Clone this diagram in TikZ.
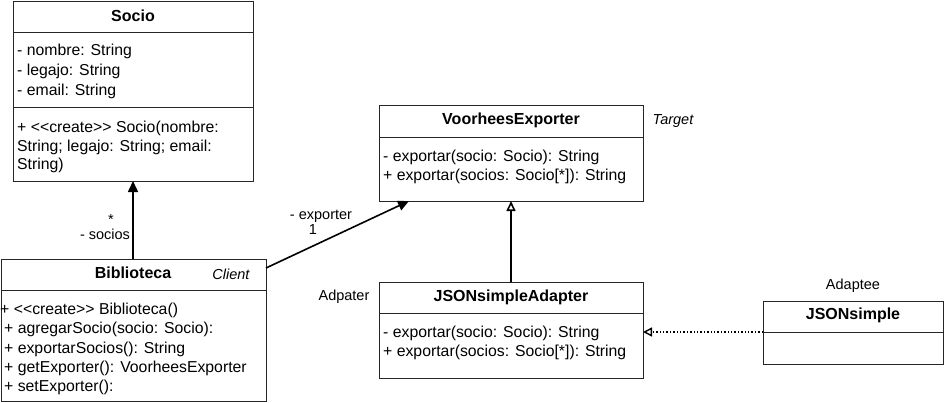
\documentclass[tikz,border=0pt]{standalone}
\usepackage{fontspec}
\setmainfont{Liberation Sans}
\usetikzlibrary{arrows.meta}
\newcommand{\crt}{<\kern0pt<create>\kern0pt>}
\begin{document}
\begin{tikzpicture}[x=1pt,y=-1pt,
  box/.style={draw=black!85,line width=1.3pt,fill=white},
  sep/.style={draw=black!85,line width=1pt},
  ttl/.style={font=\fontsize{16}{20}\selectfont\bfseries,inner sep=0pt,yshift=-1pt},
  txt/.style={font=\fontsize{15.8}{20}\selectfont,anchor=west,inner sep=0pt,text height=11.5pt,text depth=3.5pt,yshift=-2pt},
  lbl/.style={font=\fontsize{14.5}{17}\selectfont,inner sep=0pt},
  ilbl/.style={font=\fontsize{14.5}{17}\selectfont\itshape,inner sep=0pt},
  assoc/.style={line width=1.6pt,-{Triangle[length=11pt,width=10pt]}},
  gen/.style={line width=1.6pt,-{Triangle[open,length=10pt,width=9pt]}},
  real/.style={line width=1.4pt,dotted,-{Triangle[open,length=9pt,width=9pt]}}
]
\useasboundingbox (0,0) rectangle (945,402);
% Socio
\node[box,anchor=north west,minimum width=240pt,minimum height=180pt,inner sep=0pt] (socio) at (13,1) {};
\draw[sep] (13,32) -- (253,32);
\draw[sep] (13,107) -- (253,107);
\node[ttl] (socioT) at (133,15) {Socio};
\node[txt] (s1) at (17,49) {- nombre: String};
\node[txt] (s2) at (17,69) {- legajo: String};
\node[txt] (s3) at (17,89) {- email: String};
\node[txt] (s4) at (17,126) {+ \crt{} Socio(nombre:};
\node[txt] (s5) at (17,145) {String; legajo: String; email:};
\node[txt] (s6) at (17,163) {String)};
% Biblioteca
\node[box,anchor=north west,minimum width=265pt,minimum height=142pt,inner sep=0pt] (bib) at (1,259) {};
\draw[sep] (1,290) -- (266,290);
\node[ttl] (bibT) at (133,272) {Biblioteca};
\node[ilbl] (client) at (231,274) {Client};
\node[txt] (b1) at (0,308) {+ \crt{} Biblioteca()};
\node[txt] (b2) at (4,327) {+ agregarSocio(socio: Socio):};
\node[txt] (b3) at (4,347) {+ exportarSocios(): String};
\node[txt] (b4) at (4,366) {+ getExporter(): VoorheesExporter};
\node[txt] (b5) at (4,385) {+ setExporter():};
% VoorheesExporter
\node[box,anchor=north west,minimum width=264pt,minimum height=96pt,inner sep=0pt] (voor) at (379,105) {};
\draw[sep] (379,137) -- (643,137);
\node[ttl] (voorT) at (511,119) {VoorheesExporter};
\node[ilbl] (target) at (673,121) {Target};
\node[txt] (v1) at (383,155) {- exportar(socio: Socio): String};
\node[txt] (v2) at (383,174) {+ exportar(socios: Socio[*]): String};
% JSONsimpleAdapter
\node[box,anchor=north west,minimum width=264pt,minimum height=96pt,inner sep=0pt] (adap) at (379,282) {};
\draw[sep] (379,313) -- (643,313);
\node[ttl] (adapT) at (511,296) {JSONsimpleAdapter};
\node[lbl] (adpater) at (344,297) {Adpater};
\node[txt] (a1) at (383,331) {- exportar(socio: Socio): String};
\node[txt] (a2) at (383,350) {+ exportar(socios: Socio[*]): String};
% JSONsimple
\node[box,anchor=north west,minimum width=180pt,minimum height=63pt,inner sep=0pt] (json) at (763,301) {};
\draw[sep] (763,332) -- (943,332);
\node[ttl] (jsonT) at (853,314) {JSONsimple};
\node[lbl] (adaptee) at (853,286) {Adaptee};
% connectors
\coordinate (bibTop) at (133,259);
\coordinate (socioBot) at (133,181);
\draw[assoc] (bibTop) -- (socioBot);
\node[lbl] (star) at (111,220) {*};
\node[lbl] (socios) at (105,234) {- socios};
\coordinate (bibR) at (266,268);
\coordinate (voorB) at (409,201);
\draw[assoc] (bibR) -- (voorB);
\node[lbl] (exporter) at (321,216) {- exporter};
\node[lbl] (one) at (313,230) {1};
\coordinate (adapTop) at (511,282);
\coordinate (voorBot) at (511,201);
\draw[gen] (adapTop) -- (voorBot);
\coordinate (jsonL) at (763,332);
\coordinate (adapR) at (643,332);
\draw[real] (jsonL) -- (adapR);
\end{tikzpicture}
\end{document}
